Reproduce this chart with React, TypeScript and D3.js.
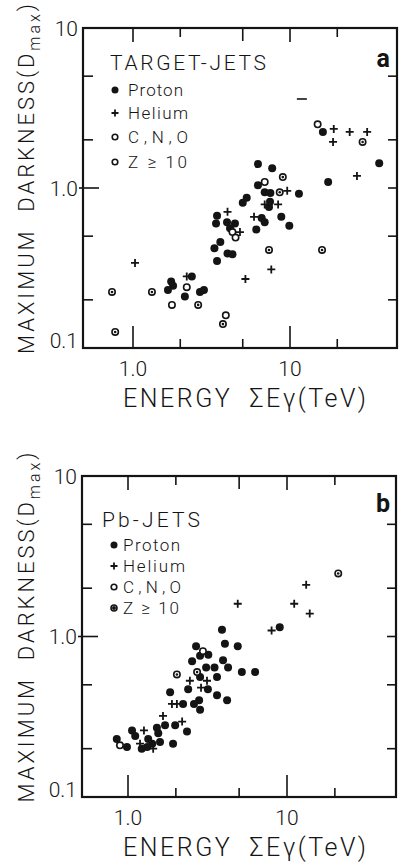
import React from 'react';
import * as d3 from 'd3';

type Pt = [number, number];

// ---------- tick values / labels ----------
const xTickMajor = [1, 10];
const xTickMinor = [2, 5, 20];
const xTickLabels: [number, string][] = [[1, '1.0'], [10, '10']];
const yTickMajor = [1];
const yTickMinor = [0.2, 0.5, 2, 5];
const yTickLabels: [number, string][] = [[10, '10'], [1, '1.0'], [0.1, '0.1']];
const legendNames = ['Proton', 'Helium', 'C,N,O', 'Z ≥ 10'];

// ---------- panel a : TARGET-JETS ----------
const aProton: Pt[] = [
  [16.2, 2.24], [37, 1.43], [17.5, 1.09], [6.25, 1.41], [7.7, 1.33], [6.25, 1.04],
  [6.9, 0.94], [7.5, 0.93], [11.4, 0.92], [5.3, 0.87], [5.0, 0.81], [7.35, 0.76],
  [7.46, 0.82], [3.43, 0.67], [3.38, 0.6], [3.97, 0.61], [4.46, 0.6], [4.15, 0.56],
  [6.6, 0.65], [6.9, 0.61], [6.1, 0.55], [8.8, 0.66], [9.9, 0.58], [3.6, 0.46],
  [3.3, 0.42], [4.0, 0.39], [4.3, 0.385], [3.43, 0.35], [2.37, 0.28], [1.75, 0.26],
  [1.8, 0.245], [1.67, 0.23], [2.14, 0.21], [2.67, 0.224], [2.83, 0.23],
];
const aHelium: Pt[] = [
  [19, 2.34], [18.8, 1.94], [24, 2.24], [31, 2.24], [26.7, 1.19], [9.6, 0.96],
  [6.9, 0.79], [8.4, 0.79], [4.0, 0.71], [5.9, 0.66], [4.8, 0.53], [1.03, 0.34],
  [7.6, 0.31], [5.2, 0.27], [2.2, 0.28],
];
const aCNO: Pt[] = [
  [15, 2.5], [6.9, 1.09], [4.3, 0.53], [4.5, 0.49], [2.2, 0.24], [3.9, 0.16], [1.77, 0.186],
];
const aZ10: Pt[] = [
  [29, 1.94], [9.0, 1.17], [8.6, 0.94], [7.35, 0.41], [16, 0.41], [0.735, 0.224],
  [1.32, 0.224], [2.6, 0.186], [0.77, 0.126], [3.74, 0.141],
];
const aDash: Pt[] = [[11.9, 3.6]];

// ---------- panel b : Pb-JETS ----------
const bProton: Pt[] = [
  [9.0, 1.14], [3.9, 1.1], [4.07, 0.9], [4.9, 0.87], [2.68, 0.87], [2.84, 0.76],
  [3.2, 0.77], [2.53, 0.7], [3.1, 0.64], [3.96, 0.71], [3.5, 0.64], [4.26, 0.64],
  [5.2, 0.6], [6.3, 0.6], [2.84, 0.56], [3.63, 0.56], [2.39, 0.47], [3.18, 0.47],
  [1.84, 0.45], [3.63, 0.43], [4.2, 0.4], [2.8, 0.4], [2.6, 0.38], [2.84, 0.35],
  [2.22, 0.38], [1.71, 0.28], [1.98, 0.28], [2.35, 0.256], [1.52, 0.27], [1.55, 0.25],
  [1.06, 0.26], [1.11, 0.24], [0.85, 0.23], [0.985, 0.205], [1.34, 0.23], [1.22, 0.2],
  [1.42, 0.215], [1.59, 0.22], [1.32, 0.205], [1.92, 0.215],
];
const bHelium: Pt[] = [
  [13.2, 2.1], [4.9, 1.6], [11.1, 1.6], [13.9, 1.39], [8.0, 1.09], [2.45, 0.53],
  [3.14, 0.53], [2.88, 0.48], [1.89, 0.38], [2.03, 0.38], [1.66, 0.32], [2.19, 0.295],
  [1.26, 0.26], [1.19, 0.215], [1.44, 0.2],
];
const bCNO: Pt[] = [[2.96, 0.81], [0.89, 0.21]];
const bZ10: Pt[] = [[21, 2.47], [2.03, 0.58], [2.72, 0.6]];

const INK = '#141414';
const FONT = "Roboto, 'Liberation Sans', Arial, sans-serif";
const WEIGHT = 300;

function Filled({ x, y, r = 4 }: { x: number; y: number; r?: number }) {
  return <circle cx={x} cy={y} r={r} fill={INK} />;
}
function Plus({ x, y, s = 4 }: { x: number; y: number; s?: number }) {
  return (
    <path d={`M${x - s},${y}H${x + s}M${x},${y - s}V${y + s}`} stroke={INK} strokeWidth={1.8} fill="none" />
  );
}
function Open({ x, y, r = 3.2 }: { x: number; y: number; r?: number }) {
  return <circle cx={x} cy={y} r={r} fill="#fff" stroke={INK} strokeWidth={1.6} />;
}
function Dotted({ x, y, r = 3.2, dot = 1.3 }: { x: number; y: number; r?: number; dot?: number }) {
  return (
    <g>
      <circle cx={x} cy={y} r={r} fill="#fff" stroke={INK} strokeWidth={1.6} />
      <circle cx={x} cy={y} r={dot} fill={INK} />
    </g>
  );
}

interface PanelProps {
  left: number; right: number; top: number; bottom: number;
  x1: number; x10: number;
  proton: Pt[]; helium: Pt[]; cno: Pt[]; z10: Pt[]; dash?: Pt[];
  title: string; letter: string;
  legendTitleX: number; legendTitleY: number; legendTitleLen: number;
  legendMarkerX: number; legendTextX: number; legendYs: number[]; legendLens: number[];
  zLegendDark?: boolean;
}

function Panel(p: PanelProps) {
  const x = d3.scaleLog().domain([1, 10]).range([p.x1, p.x10]);
  const y = d3.scaleLog().domain([0.1, 10]).range([p.bottom, p.top]);
  const cy = (p.top + p.bottom) / 2 - 9;
  return (
    <g fontFamily={FONT} fontWeight={WEIGHT} fill={INK}>
      {/* frame */}
      <rect x={p.left} y={p.top} width={p.right - p.left} height={p.bottom - p.top}
        fill="none" stroke={INK} strokeWidth={2.2} />
      {/* x ticks */}
      {xTickMajor.map((v) => (
        <g key={'xM' + v} stroke={INK} strokeWidth={1.6}>
          <line x1={x(v)} x2={x(v)} y1={p.bottom} y2={p.bottom - 22} />
          <line x1={x(v)} x2={x(v)} y1={p.top} y2={p.top + 14} />
        </g>
      ))}
      {xTickMinor.map((v) => (
        <g key={'xm' + v} stroke={INK} strokeWidth={1.6}>
          <line x1={x(v)} x2={x(v)} y1={p.bottom} y2={p.bottom - 9} />
          <line x1={x(v)} x2={x(v)} y1={p.top} y2={p.top + (v === 5 ? 13 : 9)} />
        </g>
      ))}
      {/* y ticks */}
      {yTickMajor.map((v) => (
        <g key={'yM' + v} stroke={INK} strokeWidth={1.6}>
          <line x1={p.left - 4} x2={p.left + 16} y1={y(v)} y2={y(v)} />
          <line x1={p.right} x2={p.right - 9} y1={y(v)} y2={y(v)} />
        </g>
      ))}
      {yTickMinor.map((v) => (
        <g key={'ym' + v} stroke={INK} strokeWidth={1.6}>
          <line x1={p.left} x2={p.left + 10} y1={y(v)} y2={y(v)} />
          <line x1={p.right} x2={p.right - 9} y1={y(v)} y2={y(v)} />
        </g>
      ))}
      {/* tick labels */}
      {xTickLabels.map(([v, t]) => (
        <text key={'xl' + v} x={x(v)} y={p.bottom + 28} fontSize={21} textAnchor="middle">{t}</text>
      ))}
      {yTickLabels.map(([v, t]) => (
        <text key={'yl' + v} x={p.left - 5} y={v === 0.1 ? y(v) : y(v) + 7.5} fontSize={21} textAnchor="end">{t}</text>
      ))}
      {/* axis titles */}
      <text x={123} y={p.bottom + 59} fontSize={25} textLength={243} lengthAdjust="spacing"
        style={{ whiteSpace: 'pre' }}>{'ENERGY  ΣEγ(TeV)'}</text>
      <text transform={`translate(34,${cy}) rotate(-90)`} fontSize={22} textAnchor="middle"
        textLength={350} lengthAdjust="spacing" style={{ whiteSpace: 'pre' }}>
        {'MAXIMUM  DARKNESS(D'}<tspan fontSize={16} dy={6}>max</tspan><tspan dy={-6}>)</tspan>
      </text>
      {/* panel letter */}
      <text x={390} y={p.top + (p.letter === 'a' ? 39 : 36)} fontSize={25} fontWeight="bold" textAnchor="end">{p.letter}</text>
      {/* legend */}
      <text x={p.legendTitleX} y={p.legendTitleY} fontSize={21} textLength={p.legendTitleLen} lengthAdjust="spacing">{p.title}</text>
      <Filled x={p.legendMarkerX} y={p.legendYs[0]} r={3.5} />
      <Plus x={p.legendMarkerX} y={p.legendYs[1]} s={3.5} />
      <Open x={p.legendMarkerX} y={p.legendYs[2]} r={2.8} />
      {p.zLegendDark
        ? <Dotted x={p.legendMarkerX} y={p.legendYs[3]} r={3} dot={2} />
        : <Open x={p.legendMarkerX} y={p.legendYs[3]} r={2.8} />}
      {legendNames.map((n, i) => (
        <text key={n} x={p.legendTextX} y={p.legendYs[i] + 6} fontSize={17}
          textLength={p.legendLens[i]} lengthAdjust="spacing" style={{ whiteSpace: 'pre' }}>{n}</text>
      ))}
      {/* data */}
      {p.proton.map(([a, b], i) => <Filled key={'p' + i} x={x(a)} y={y(b)} />)}
      {p.helium.map(([a, b], i) => <Plus key={'h' + i} x={x(a)} y={y(b)} />)}
      {p.cno.map(([a, b], i) => <Open key={'c' + i} x={x(a)} y={y(b)} />)}
      {p.z10.map(([a, b], i) => <Dotted key={'z' + i} x={x(a)} y={y(b)} />)}
      {(p.dash || []).map(([a, b], i) => (
        <line key={'d' + i} x1={x(a) - 5} x2={x(a) + 5} y1={y(b)} y2={y(b)} stroke={INK} strokeWidth={1.6} />
      ))}
    </g>
  );
}

export default function App() {
  return (
    <svg width={406} height={864} style={{ position: 'absolute', left: 0, top: 0, background: '#fff' }}>
      <rect width={406} height={864} fill="#fff" />
      <Panel left={83} right={397} top={28} bottom={348} x1={133} x10={290}
        proton={aProton} helium={aHelium} cno={aCNO} z10={aZ10} dash={aDash}
        title="TARGET-JETS" letter="a"
        legendTitleX={110} legendTitleY={70} legendTitleLen={156}
        legendMarkerX={115} legendTextX={128} legendYs={[90, 113, 137, 162]}
        legendLens={[55, 60, 60, 59]} />
      <Panel left={82} right={396} top={476} bottom={797} x1={128} x10={287}
        proton={bProton} helium={bHelium} cno={bCNO} z10={bZ10}
        title="Pb-JETS" letter="b"
        legendTitleX={102} legendTitleY={527} legendTitleLen={98}
        legendMarkerX={114} legendTextX={123} legendYs={[545, 566, 587, 608]}
        legendLens={[57, 62, 58, 56]} zLegendDark />
    </svg>
  );
}
